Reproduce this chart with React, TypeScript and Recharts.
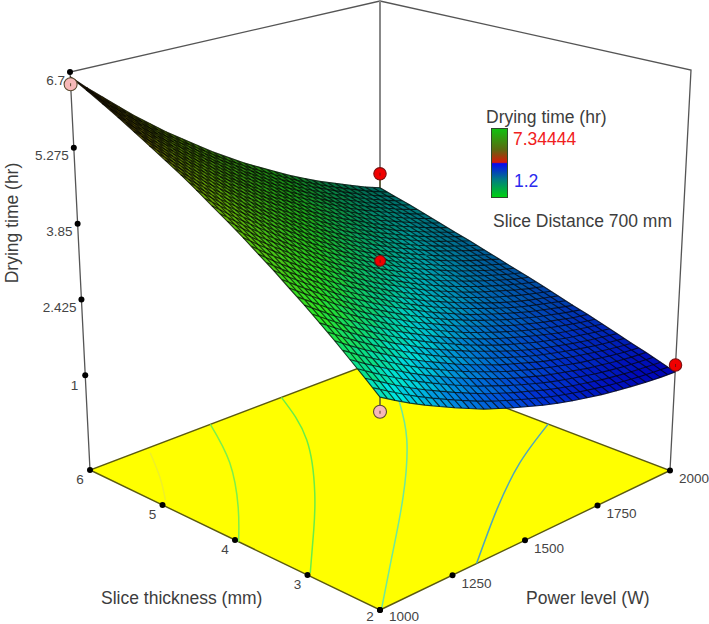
import { ScatterChart, Scatter, XAxis, YAxis } from "recharts";

// values
const powerLevels = [1000, 1050, 1100, 1150, 1200, 1250, 1300, 1350, 1400, 1450, 1500, 1550, 1600, 1650, 1700, 1750, 1800, 1850, 1900, 1950, 2000];
const thicknessLevels = [2, 2.2, 2.4, 2.6, 2.8, 3, 3.2, 3.4, 3.6, 3.8, 4, 4.2, 4.4, 4.6, 4.8, 5, 5.2, 5.4, 5.6, 5.8, 6];

// drying time (hr), one row per slice thickness, one column per power level
const dryingTime = [
  [2.84, 2.68, 2.53, 2.39, 2.26, 2.13, 2.01, 1.89, 1.79, 1.69, 1.6, 1.51, 1.43, 1.36, 1.3, 1.24, 1.19, 1.15, 1.11, 1.08, 1.06],
  [3.06, 2.9, 2.74, 2.59, 2.45, 2.32, 2.19, 2.07, 1.95, 1.85, 1.75, 1.66, 1.57, 1.49, 1.42, 1.36, 1.3, 1.25, 1.21, 1.18, 1.15],
  [3.28, 3.11, 2.95, 2.79, 2.64, 2.5, 2.37, 2.24, 2.12, 2.01, 1.9, 1.8, 1.71, 1.62, 1.55, 1.48, 1.41, 1.36, 1.31, 1.27, 1.24],
  [3.5, 3.32, 3.15, 2.99, 2.83, 2.68, 2.54, 2.41, 2.28, 2.16, 2.05, 1.94, 1.85, 1.76, 1.67, 1.6, 1.53, 1.47, 1.41, 1.36, 1.32],
  [3.71, 3.53, 3.35, 3.18, 3.02, 2.86, 2.72, 2.57, 2.44, 2.32, 2.2, 2.09, 1.98, 1.88, 1.79, 1.71, 1.64, 1.57, 1.51, 1.46, 1.41],
  [3.92, 3.73, 3.54, 3.37, 3.2, 3.04, 2.88, 2.74, 2.6, 2.47, 2.34, 2.22, 2.11, 2.01, 1.92, 1.83, 1.75, 1.67, 1.61, 1.55, 1.5],
  [4.12, 3.93, 3.74, 3.56, 3.38, 3.21, 3.05, 2.9, 2.75, 2.62, 2.49, 2.36, 2.25, 2.14, 2.04, 1.94, 1.86, 1.78, 1.71, 1.64, 1.59],
  [4.33, 4.12, 3.93, 3.74, 3.56, 3.38, 3.22, 3.06, 2.91, 2.77, 2.63, 2.5, 2.38, 2.26, 2.16, 2.06, 1.97, 1.88, 1.81, 1.74, 1.67],
  [4.52, 4.31, 4.11, 3.92, 3.73, 3.55, 3.38, 3.22, 3.06, 2.91, 2.77, 2.63, 2.51, 2.39, 2.28, 2.17, 2.07, 1.98, 1.9, 1.83, 1.76],
  [4.72, 4.5, 4.3, 4.1, 3.9, 3.72, 3.54, 3.37, 3.21, 3.05, 2.91, 2.77, 2.63, 2.51, 2.39, 2.28, 2.18, 2.09, 2.0, 1.92, 1.85],
  [4.91, 4.69, 4.47, 4.27, 4.07, 3.88, 3.7, 3.52, 3.36, 3.2, 3.04, 2.9, 2.76, 2.63, 2.51, 2.4, 2.29, 2.19, 2.1, 2.01, 1.94],
  [5.09, 4.87, 4.65, 4.44, 4.24, 4.04, 3.85, 3.67, 3.5, 3.34, 3.18, 3.03, 2.89, 2.75, 2.63, 2.51, 2.39, 2.29, 2.19, 2.1, 2.02],
  [5.28, 5.05, 4.82, 4.61, 4.4, 4.2, 4.01, 3.82, 3.64, 3.47, 3.31, 3.16, 3.01, 2.87, 2.74, 2.62, 2.5, 2.39, 2.29, 2.2, 2.11],
  [5.46, 5.22, 4.99, 4.77, 4.56, 4.35, 4.16, 3.97, 3.78, 3.61, 3.44, 3.28, 3.13, 2.99, 2.85, 2.73, 2.6, 2.49, 2.39, 2.29, 2.2],
  [5.63, 5.39, 5.16, 4.93, 4.72, 4.51, 4.3, 4.11, 3.92, 3.74, 3.57, 3.41, 3.25, 3.11, 2.96, 2.83, 2.71, 2.59, 2.48, 2.38, 2.29],
  [5.8, 5.56, 5.32, 5.09, 4.87, 4.65, 4.45, 4.25, 4.06, 3.88, 3.7, 3.53, 3.37, 3.22, 3.08, 2.94, 2.81, 2.69, 2.58, 2.47, 2.37],
  [5.97, 5.72, 5.48, 5.25, 5.02, 4.8, 4.59, 4.39, 4.19, 4.0, 3.83, 3.65, 3.49, 3.33, 3.19, 3.04, 2.91, 2.79, 2.67, 2.56, 2.46],
  [6.14, 5.88, 5.64, 5.4, 5.17, 4.95, 4.73, 4.52, 4.32, 4.13, 3.95, 3.77, 3.61, 3.45, 3.3, 3.15, 3.01, 2.89, 2.77, 2.65, 2.55],
  [6.3, 6.04, 5.79, 5.55, 5.31, 5.09, 4.87, 4.66, 4.45, 4.26, 4.07, 3.89, 3.72, 3.56, 3.4, 3.25, 3.12, 2.98, 2.86, 2.74, 2.64],
  [6.46, 6.19, 5.94, 5.69, 5.45, 5.22, 5.0, 4.79, 4.58, 4.38, 4.19, 4.01, 3.83, 3.67, 3.51, 3.36, 3.22, 3.08, 2.95, 2.83, 2.72],
  [6.61, 6.34, 6.09, 5.84, 5.59, 5.36, 5.13, 4.92, 4.71, 4.5, 4.31, 4.12, 3.95, 3.78, 3.61, 3.46, 3.31, 3.18, 3.05, 2.92, 2.81],
];

const timeTicks = [1, 2.425, 3.85, 5.275, 6.7];
const thicknessTicks = [2, 3, 4, 5, 6];
const powerTicks = [1000, 1250, 1500, 1750, 2000];

// design points: [power, thickness, time]
const pinkPoints = [[1000, 6, 6.47], [1000, 2, 2.59]];
const redPoints = [[2000, 6, 3.1], [2000, 2, 1.19]];
const centrePoints = [[1500, 4, 3.28]];

// contours on the floor: [power, thickness]
const contours = [
  { color: "#eef028", line: [[1185, 5.91], [1102, 5.44], [1025, 5.06]] },
  { color: "#7cf04a", line: [[1415, 6], [1292, 5.24], [1131, 4.48], [1000, 3.95]] },
  { color: "#68ee48", line: [[1660, 6], [1525, 5.11], [1325, 4.2], [1179, 3.63], [1012, 3.01]] },
  { color: "#6ee89c", line: [[1855, 5.16], [1700, 4.43], [1462, 3.53], [1213, 2.69], [1005, 2]] },
  { color: "#4fa6bc", line: [[2000, 3.68], [1795, 3.25], [1570, 2.67], [1333, 2]] },
];

const W = 709;
const H = 624;
const Z_MIN = -0.78;
const Z_MAX = 6.7;
const SUB = 2;

type P2 = [number, number];

const mix = (a: P2, b: P2, t: number): P2 => [a[0] + (b[0] - a[0]) * t, a[1] + (b[1] - a[1]) * t];

// box corners on the page: front, right (2000 W), left (6 mm), back
const floorBox: P2[] = [[380, 610], [670, 470.5], [90, 470], [380, 360]];
const topBox: P2[] = [[380, 170], [691, 70], [70, 72], [380, 1]];

const onPlane = (box: P2[], u: number, v: number) => mix(mix(box[0], box[1], u), mix(box[2], box[3], u), v);

const project = (power: number, thick: number, time: number): P2 => {
  const u = (power - 1000) / 1000;
  const v = (thick - 2) / 4;
  return mix(onPlane(floorBox, u, v), onPlane(topBox, u, v), (time - Z_MIN) / (Z_MAX - Z_MIN));
};

const pt = (power: number, thick: number, time: number, extra = {}) => {
  const [x, y] = project(power, thick, time);
  return { x, y, ...extra };
};

const ramp: [number, number[]][] = [
  [1.06, [0, 0, 180]],
  [1.6, [0, 55, 215]],
  [2.2, [0, 140, 225]],
  [2.7, [0, 230, 225]],
  [3.1, [10, 225, 140]],
  [3.7, [45, 235, 40]],
  [4.9, [110, 190, 10]],
  [5.8, [110, 105, 5]],
  [6.6, [65, 30, 0]],
];

const surfaceColor = (z: number, u: number, v: number) => {
  let i = 0;
  while (i < ramp.length - 2 && z > ramp[i + 1][0]) i++;
  const t = Math.min(1, Math.max(0, (z - ramp[i][0]) / (ramp[i + 1][0] - ramp[i][0])));
  const light = 1 - 0.55 * v * Math.sqrt(u);
  const c = ramp[i][1].map((a, k) => Math.round((a + (ramp[i + 1][1][k] - a) * t) * light));
  return `rgb(${c[0]},${c[1]},${c[2]})`;
};

// surface cells, drawn from the back corner to the front
const cells: any[] = [];
const last = powerLevels.length - 1;
for (let sum = 2 * last - 2; sum >= 0; sum--) {
  for (let r = 0; r < last; r++) {
    const c = sum - r;
    if (c < 0 || c >= last) continue;
    const a = project(powerLevels[c], thicknessLevels[r], dryingTime[r][c]);
    const b = project(powerLevels[c + 1], thicknessLevels[r], dryingTime[r][c + 1]);
    const d = project(powerLevels[c], thicknessLevels[r + 1], dryingTime[r + 1][c]);
    const e = project(powerLevels[c + 1], thicknessLevels[r + 1], dryingTime[r + 1][c + 1]);
    const z = (dryingTime[r][c] + dryingTime[r][c + 1] + dryingTime[r + 1][c] + dryingTime[r + 1][c + 1]) / 4;
    cells.push({
      x: (a[0] + b[0] + d[0] + e[0]) / 4,
      y: (a[1] + b[1] + d[1] + e[1]) / 4,
      corners: [a, b, e, d],
      fill: surfaceColor(z, (c + 0.5) / last, (r + 0.5) / last),
      endC: c === last - 1,
      endR: r === last - 1,
    });
  }
}

const toPath = (pts: P2[]) => "M" + pts.map((p) => `${p[0].toFixed(1)} ${p[1].toFixed(1)}`).join("L");

// every shape works in offsets from its own point, the chart scale being 1px per unit
const CellFill = (props: any) => {
  const { cx, cy, payload } = props;
  const pts = payload.corners.map((p: P2) => [p[0] - payload.x + cx, p[1] - payload.y + cy] as P2);
  return <path d={toPath(pts) + "Z"} fill={payload.fill} stroke={payload.fill} strokeWidth={0.5} />;
};

const CellMesh = (props: any) => {
  const { cx, cy, payload } = props;
  const [a, b, e, d] = payload.corners.map((p: P2) => [p[0] - payload.x + cx, p[1] - payload.y + cy] as P2);
  let path = "";
  for (let k = 0; k <= SUB; k++) {
    if (k < SUB || payload.endR) path += toPath([mix(a, d, k / SUB), mix(b, e, k / SUB)]);
    if (k < SUB || payload.endC) path += toPath([mix(a, b, k / SUB), mix(d, e, k / SUB)]);
  }
  return <path d={path} fill="none" stroke="#000" strokeOpacity={0.72} strokeWidth={1.15} />;
};

const FloorShape = (props: any) => {
  const { cx, cy, payload } = props;
  const pts = [floorBox[0], floorBox[1], floorBox[3], floorBox[2]].map(
    (p) => [p[0] - payload.x + cx, p[1] - payload.y + cy] as P2,
  );
  return <path d={toPath(pts) + "Z"} fill="#ffff00" stroke="#5b5a10" strokeWidth={1.4} />;
};

const noMark = () => <g />;

const tickMark = (props: any) => {
  const { cx, cy, payload } = props;
  return (
    <g>
      <circle cx={cx} cy={cy} r={3} fill="#000" />
      <text
        x={cx + payload.dx}
        y={cy + payload.dy}
        textAnchor={payload.anchor}
        dominantBaseline="central"
        fontFamily="Liberation Sans"
        fontSize={13.5}
        fill="#444"
      >
        {payload.label}
      </text>
    </g>
  );
};

const bigDot = (fill: string, stroke: string, r: number) => (props: any) => (
  <g>
    <circle cx={props.cx} cy={props.cy} r={r} fill={fill} stroke={stroke} strokeWidth={1.1} />
    <line x1={props.cx} x2={props.cx} y1={props.cy - 1} y2={props.cy + 2} stroke={stroke} strokeWidth={1} />
  </g>
);

const timeData = timeTicks.map((t) =>
  pt(1000, 6, t, { label: String(t), anchor: "end", dx: t === 1 ? -7 : -5, dy: t === 1 ? 10 : 8 }),
);
const thickData = thicknessTicks.map((t) => pt(1000, t, Z_MIN, { label: String(t), anchor: "middle", dx: -10, dy: t === 2 ? 6 : 9 }));
const powerData = powerTicks.map((p) => pt(p, 2, Z_MIN, { label: String(p), anchor: "start", dx: 9, dy: p === 1000 ? 6 : 8 }));

const frame = [
  { stroke: "#555", width: 1.3, line: [pt(1000, 6, Z_MIN), pt(1000, 6, Z_MAX), pt(2000, 6, Z_MAX), pt(2000, 2, Z_MAX), pt(2000, 2, Z_MIN)] },
  { stroke: "#888", width: 2, line: [pt(2000, 6, Z_MAX), pt(2000, 6, Z_MIN)] },
];

const stems = [
  [pt(1000, 2, 2.84), pt(1000, 2, 2.59)],
  [pt(2000, 6, 3.1), pt(2000, 6, 2.82)],
];

const textStyle: any = { position: "absolute", whiteSpace: "nowrap", fontSize: 17.5, color: "#3d3d3d", lineHeight: "20px" };

const App = () => {
  return (
    <div style={{ position: "absolute", left: 0, top: 0, width: W, height: H, background: "#fff", fontFamily: "Liberation Sans", overflow: "hidden" }}>
      <ScatterChart width={W} height={H} margin={{ top: 0, right: 0, bottom: 0, left: 0 }}>
        <XAxis type="number" dataKey="x" domain={[0, W]} hide />
        <YAxis type="number" dataKey="y" domain={[0, H]} reversed hide />
        {frame.map((f, i) => (
          <Scatter key={i} data={f.line} line={{ stroke: f.stroke, strokeWidth: f.width }} shape={noMark} isAnimationActive={false} />
        ))}
        <Scatter data={[pt(1500, 4, Z_MIN)]} shape={FloorShape} isAnimationActive={false} />
        {contours.map((c, i) => (
          <Scatter
            key={i}
            data={c.line.map((p) => pt(p[0], p[1], Z_MIN))}
            line={{ stroke: c.color, strokeWidth: 1.5 }}
            lineJointType="natural"
            shape={noMark}
            isAnimationActive={false}
          />
        ))}
        {stems.map((s, i) => (
          <Scatter key={i} data={s} line={{ stroke: "#5a5a30", strokeWidth: 1.5 }} shape={noMark} isAnimationActive={false} />
        ))}
        <Scatter data={cells} shape={CellFill} isAnimationActive={false} />
        <Scatter data={cells} shape={CellMesh} isAnimationActive={false} />
        <Scatter data={timeData} shape={tickMark} isAnimationActive={false} />
        <Scatter data={thickData} shape={tickMark} isAnimationActive={false} />
        <Scatter data={powerData} shape={tickMark} isAnimationActive={false} />
        <Scatter data={pinkPoints.map((p) => pt(p[0], p[1], p[2]))} shape={bigDot("#f6b8b8", "#5a4a30", 6.5)} isAnimationActive={false} />
        <Scatter data={redPoints.map((p) => pt(p[0], p[1], p[2]))} shape={bigDot("#f00000", "#7a1010", 6.2)} isAnimationActive={false} />
        <Scatter data={centrePoints.map((p) => pt(p[0], p[1], p[2]))} shape={bigDot("#f00000", "#7a1010", 5.4)} isAnimationActive={false} />
      </ScatterChart>

      <div style={{ ...textStyle, left: 12, top: 223, transform: "translate(-50%,-50%) rotate(-90deg)" }}>Drying time (hr)</div>
      <div style={{ ...textStyle, left: 101, top: 588 }}>Slice thickness (mm)</div>
      <div style={{ ...textStyle, left: 526, top: 588 }}>Power level (W)</div>
      <div style={{ ...textStyle, left: 486, top: 107 }}>Drying time (hr)</div>
      <div style={{ ...textStyle, left: 513, top: 129, color: "#f02020" }}>7.34444</div>
      <div style={{ ...textStyle, left: 514, top: 171, color: "#2a2aee" }}>1.2</div>
      <div style={{ ...textStyle, left: 493, top: 211 }}>Slice Distance 700 mm</div>
      <div
        style={{
          position: "absolute",
          left: 491,
          top: 128,
          width: 15,
          height: 68,
          border: "1px solid #2c4a2c",
          background: "linear-gradient(#10c010 0%, #5a6a10 30%, #d81808 49%, #0808f0 51%, #007f80 75%, #00d010 100%)",
        }}
      />
    </div>
  );
};

export default App;
